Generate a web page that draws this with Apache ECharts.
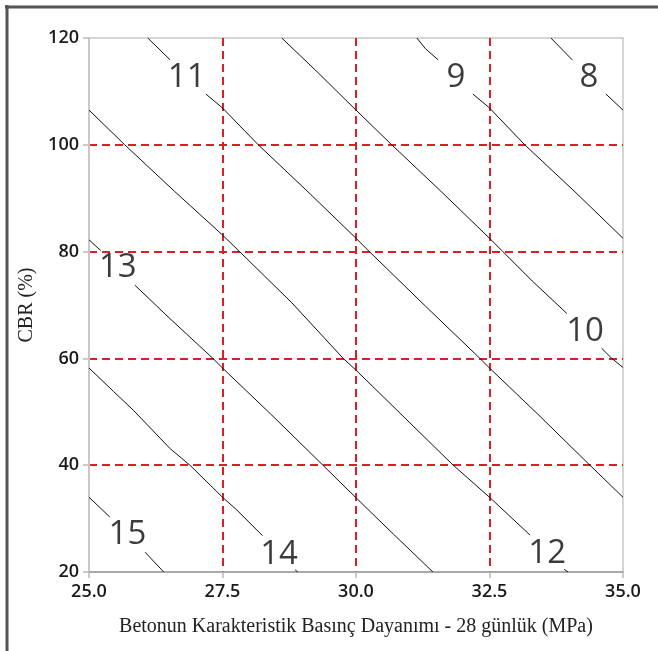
<!DOCTYPE html>
<html>
<head>
<meta charset="utf-8">
<script src="https://cdn.jsdelivr.net/npm/echarts@6/dist/echarts.min.js"></script>
<style>
html,body{margin:0;padding:0;background:#fff;}
#chart{width:658px;height:651px;}
</style>
</head>
<body>
<div id="chart"></div>
<script>
// Contour levels and their polylines (each contour split into segments around its label)
const levels = [8, 9, 10, 11, 12, 13, 14, 15];
const contour8 = [[[33.65,120],[34.05,115.9]], [[34.68,109.5],[35,106.5]]];
const contour9 = [[[31.14,120],[31.3,118],[31.54,115.9]], [[32.19,109.5],[32.5,106.9],[33.16,100],[34.1,91.2],[35,82.5]]];
const contour10 = [[[28.61,120],[29.3,113.4],[30,106.5],[30.67,100],[31.6,91.2],[32.5,82.5],[32.75,80],[33.3,74.5],[33.95,68.4]], [[34.6,61.9],[34.79,60],[35,58.3]]];
const contour11 = [[[26.1,120],[26.52,115.9]], [[27.19,109.5],[27.5,106.9],[28.17,100],[29.1,91.2],[30,82.5],[30.25,80],[31.3,69.8],[32.32,60],[32.5,58.2],[33.4,49.6],[34.38,40],[35,34.0]]];
const contour12 = [[[25,106.5],[25.67,100],[26.6,91.3],[27.5,83.1],[27.82,80],[28.8,70.4],[29.76,60],[30,57.8],[30.9,49],[31.82,40],[32.5,34.0],[33.26,26.9]], [[33.9,20.5],[33.97,20]]];
const contour13 = [[[25,82.2],[25.22,80.2]], [[25.86,73.7],[26.5,67.6],[27.32,60],[27.5,58.2],[28.4,49.6],[29.38,40],[30,33.9],[30.7,27.1],[31.44,20]]];
const contour14 = [[[25,58.2],[25.46,53.8],[25.83,50.3],[26.52,43.1],[26.89,40],[27.5,34.0],[27.77,31.6],[28.25,26.8]], [[28.86,20.4],[28.91,20]]];
const contour15 = [[[25,34.0],[25.39,30.3]], [[26.05,23.7],[26.4,20]]];
const contours = [contour8, contour9, contour10, contour11, contour12, contour13, contour14, contour15];
// Contour label anchors [x, y, level]
const labelPoints = [[34.36,113.1,8],[31.87,113.1,9],[34.29,65.6,10],[26.83,113.2,11],[33.58,24.1,12],[25.54,77.5,13],[28.56,23.8,14],[25.72,27.55,15]];
// Axes
const xTicks = [25, 27.5, 30, 32.5, 35];
const yTicks = [20, 40, 60, 80, 100, 120];
const xTitle = 'Betonun Karakteristik Basınç Dayanımı - 28 günlük (MPa)';
const yTitle = 'CBR (%)';

const chart = echarts.init(document.getElementById('chart'), null, {renderer: 'canvas'});

const series = [];
contours.forEach((c, i) => {
  c.forEach((seg, j) => {
    series.push({
      type: 'line',
      name: 'c' + levels[i] + '_' + j,
      data: seg,
      showSymbol: false,
      symbol: 'none',
      silent: true,
      z: 3,
      lineStyle: {color: '#111', width: 1}
    });
  });
});
series.push({
  type: 'scatter',
  data: labelPoints,
  symbolSize: 0,
  silent: true,
  z: 4,
  label: {
    show: true,
    position: 'inside',
    offset: [0, 3],
    formatter: p => String(p.value[2]),
    fontFamily: 'Open Sans',
    fontSize: 33,
    color: '#0a0a0a'
  }
});

const gridLineStyle = {color: '#d9202a', width: 2, type: [8, 5]};

chart.setOption({
  animation: false,
  backgroundColor: '#fff',
  grid: {left: 89, top: 38, width: 534, height: 534, show: true, borderColor: '#c8c8c8', borderWidth: 1.5, backgroundColor: 'transparent'},
  xAxis: {
    type: 'value', min: xTicks[0], max: xTicks[xTicks.length-1], interval: 2.5,
    name: xTitle, nameLocation: 'middle', nameGap: 45,
    nameTextStyle: {fontFamily: 'Liberation Serif', fontSize: 20, color: '#222'},
    axisLine: {show: true, onZero: false, lineStyle: {color: '#9a9a9a', width: 1.5}},
    axisTick: {show: true, length: 6, lineStyle: {color: '#bbb', width: 1.5}},
    axisLabel: {margin: 11, fontFamily: 'Open Sans', fontWeight: 600, fontSize: 18, color: '#1a1a1a', formatter: v => v.toFixed(1)},
    splitLine: {show: true, showMinLine: false, showMaxLine: false, lineStyle: gridLineStyle}
  },
  yAxis: {
    type: 'value', min: yTicks[0], max: yTicks[yTicks.length-1], interval: 20,
    name: yTitle, nameLocation: 'middle', nameGap: 51, nameRotate: 90,
    nameTextStyle: {fontFamily: 'Liberation Serif', fontSize: 20, color: '#222'},
    axisLine: {show: true, onZero: false, lineStyle: {color: '#c8c8c8', width: 2}},
    axisTick: {show: true, length: 6, lineStyle: {color: '#bbb', width: 1.5}},
    axisLabel: {margin: 10, fontFamily: 'Open Sans', fontWeight: 600, fontSize: 18, color: '#1a1a1a'},
    splitLine: {show: true, showMinLine: false, showMaxLine: false, lineStyle: gridLineStyle}
  },
  graphic: [
    {type: 'line', shape: {x1: 5, y1: 7, x2: 658, y2: 7}, style: {stroke: '#555', lineWidth: 3}, silent: true},
    {type: 'line', shape: {x1: 7, y1: 5, x2: 7, y2: 651}, style: {stroke: '#555', lineWidth: 3}, silent: true}
  ],
  series: series
});
</script>
</body>
</html>
